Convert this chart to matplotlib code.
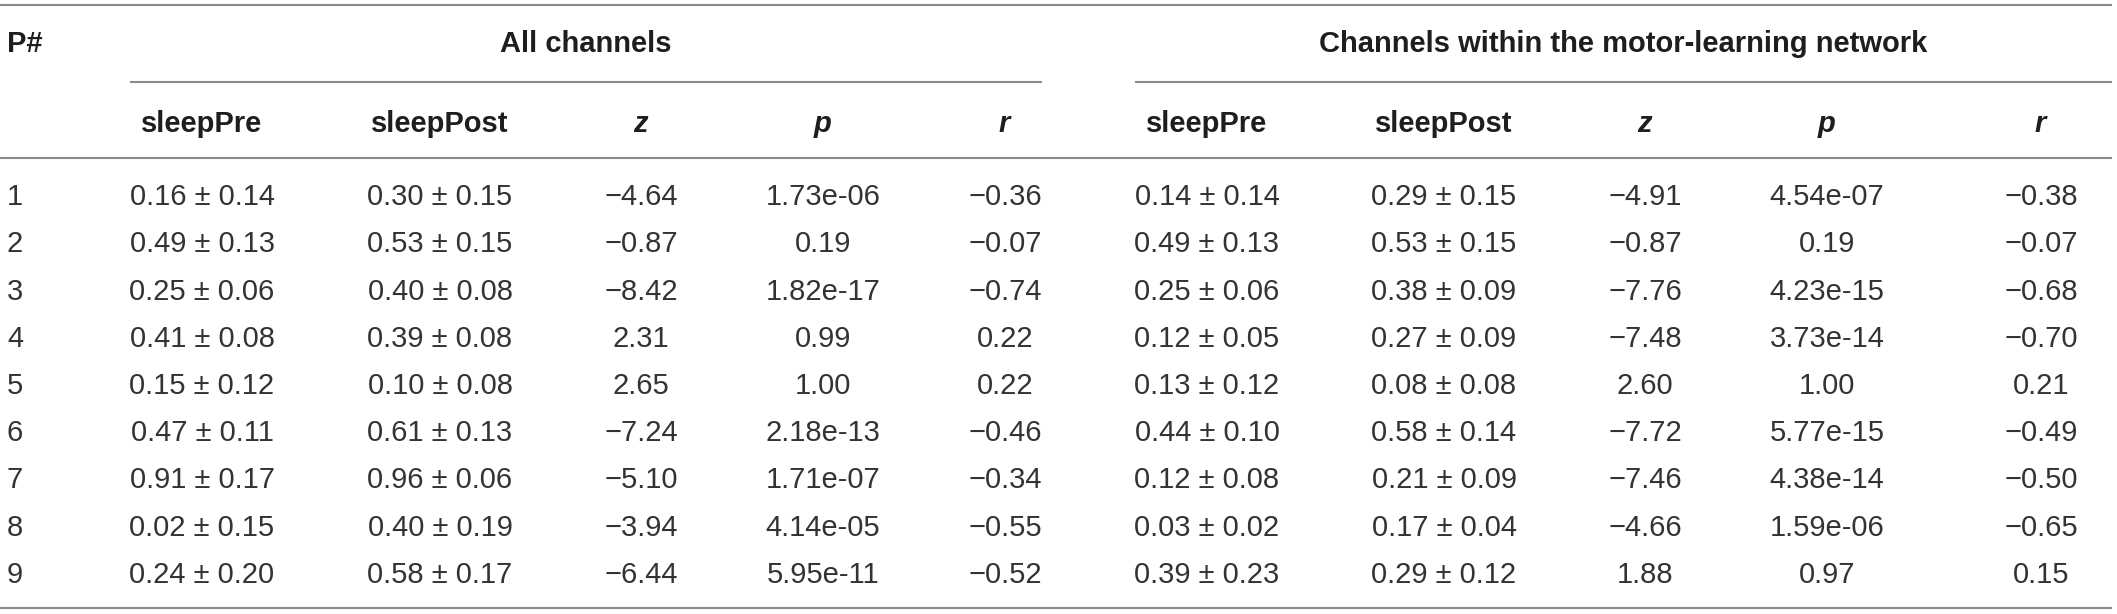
import matplotlib.pyplot as plt

# Table values (per participant)
participants = [1, 2, 3, 4, 5, 6, 7, 8, 9]

all_pre_mean = [0.16, 0.49, 0.25, 0.41, 0.15, 0.47, 0.91, 0.02, 0.24]
all_pre_sd = [0.14, 0.13, 0.06, 0.08, 0.12, 0.11, 0.17, 0.15, 0.20]
all_post_mean = [0.30, 0.53, 0.40, 0.39, 0.10, 0.61, 0.96, 0.40, 0.58]
all_post_sd = [0.15, 0.15, 0.08, 0.08, 0.08, 0.13, 0.06, 0.19, 0.17]
all_z = [-4.64, -0.87, -8.42, 2.31, 2.65, -7.24, -5.10, -3.94, -6.44]
all_p = [1.73e-06, 0.19, 1.82e-17, 0.99, 1.00, 2.18e-13, 1.71e-07, 4.14e-05, 5.95e-11]
all_r = [-0.36, -0.07, -0.74, 0.22, 0.22, -0.46, -0.34, -0.55, -0.52]

net_pre_mean = [0.14, 0.49, 0.25, 0.12, 0.13, 0.44, 0.12, 0.03, 0.39]
net_pre_sd = [0.14, 0.13, 0.06, 0.05, 0.12, 0.10, 0.08, 0.02, 0.23]
net_post_mean = [0.29, 0.53, 0.38, 0.27, 0.08, 0.58, 0.21, 0.17, 0.29]
net_post_sd = [0.15, 0.15, 0.09, 0.09, 0.08, 0.14, 0.09, 0.04, 0.12]
net_z = [-4.91, -0.87, -7.76, -7.48, 2.60, -7.72, -7.46, -4.66, 1.88]
net_p = [4.54e-07, 0.19, 4.23e-15, 3.73e-14, 1.00, 5.77e-15, 4.38e-14, 1.59e-06, 0.97]
net_r = [-0.38, -0.07, -0.68, -0.70, 0.21, -0.49, -0.50, -0.65, 0.15]

group_titles = ["All channels", "Channels within the motor-learning network"]
col_titles = ["sleepPre", "sleepPost", "$\\bf{z}$", "$\\bf{p}$", "$\\bf{r}$"]


def fmt_num(v):
    s = f"{abs(v):.2f}"
    return ("\u2212" + s) if v < 0 else s


def fmt_p(v):
    return f"{v:.2e}" if v < 0.01 else f"{v:.2f}"


def fmt_ms(m, s):
    return f"{m:.2f} \u00b1 {s:.2f}"


plt.rcParams['font.family'] = ['Liberation Sans', 'DejaVu Sans']
plt.rcParams['mathtext.fontset'] = 'custom'
plt.rcParams['mathtext.bf'] = 'Liberation Sans:bold:italic'

W, H = 2117, 614
fig = plt.figure(figsize=(W / 100, H / 100), dpi=100)
ax = fig.add_axes([0, 0, 1, 1])
ax.set_xlim(0, W)
ax.set_ylim(H, 0)
ax.axis('off')

fs = 21
line_color = '#8a8a8a'
head_color = '#1e1e1e'
body_color = '#333333'

# horizontal rules
ax.hlines([5, 158, 608], 0, 2112, color=line_color, lw=1.5)
ax.hlines(82, 130, 1042, color=line_color, lw=1.5)
ax.hlines(82, 1135, 2112, color=line_color, lw=1.5)

# header row 1
ax.text(7, 52, "P#", fontsize=fs, fontweight='bold', color=head_color, ha='left', va='baseline')
ax.text(586, 52, group_titles[0], fontsize=fs, fontweight='bold', color=head_color,
        ha='center', va='baseline')
ax.text(1623, 52, group_titles[1], fontsize=fs, fontweight='bold', color=head_color,
        ha='center', va='baseline')

# header row 2
left_x = [202, 440, 641, 823, 1005]
right_x = [1207, 1444, 1645, 1827, 2041]
for xs in (left_x, right_x):
    for x, t in zip(xs, col_titles):
        ax.text(x, 132, t, fontsize=fs, fontweight='bold', color=head_color,
                ha='center', va='baseline')

# body rows
for i, pid in enumerate(participants):
    y = 205 + 47.25 * i
    ax.text(7, y, str(pid), fontsize=fs, color=body_color, ha='left', va='baseline')
    left_vals = [fmt_ms(all_pre_mean[i], all_pre_sd[i]), fmt_ms(all_post_mean[i], all_post_sd[i]),
                 fmt_num(all_z[i]), fmt_p(all_p[i]), fmt_num(all_r[i])]
    right_vals = [fmt_ms(net_pre_mean[i], net_pre_sd[i]), fmt_ms(net_post_mean[i], net_post_sd[i]),
                  fmt_num(net_z[i]), fmt_p(net_p[i]), fmt_num(net_r[i])]
    for x, t in zip(left_x, left_vals):
        ax.text(x, y, t, fontsize=fs, color=body_color, ha='center', va='baseline')
    for x, t in zip(right_x, right_vals):
        ax.text(x, y, t, fontsize=fs, color=body_color, ha='center', va='baseline')

fig.savefig("out.png", dpi=100)
